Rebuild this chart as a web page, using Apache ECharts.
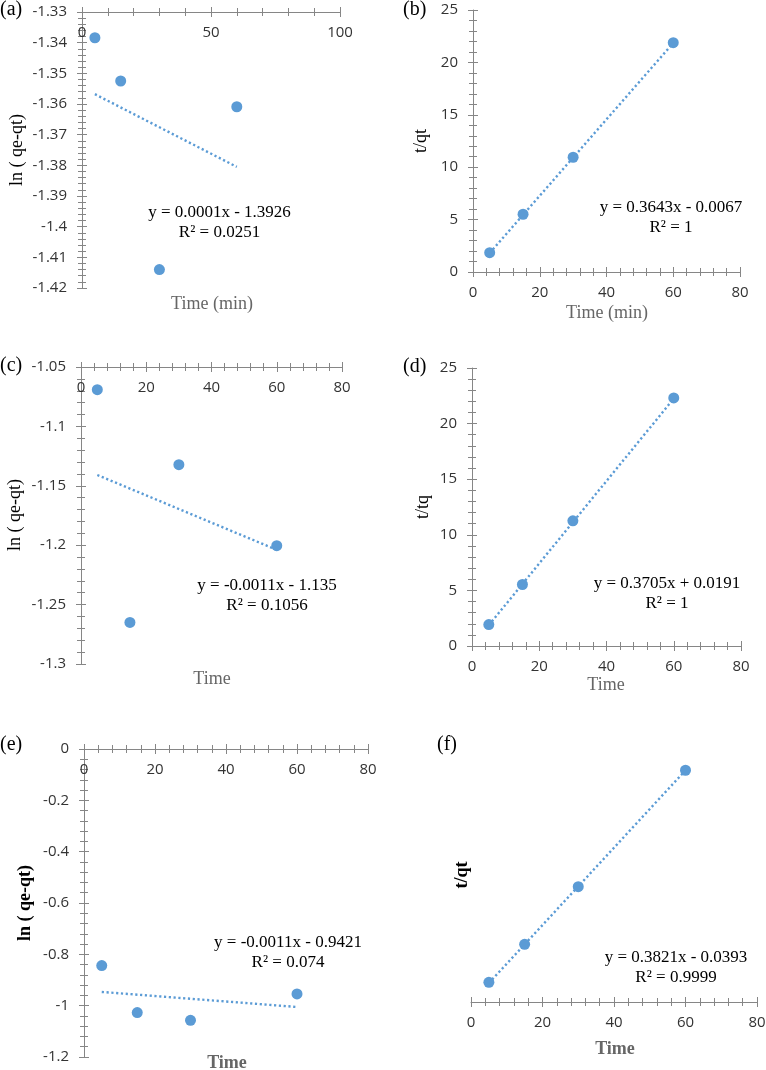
<!DOCTYPE html>
<html><head><meta charset="utf-8">
<script src="https://cdn.jsdelivr.net/npm/echarts@6/dist/echarts.min.js"></script>
<style>html,body{margin:0;padding:0;background:#fff}#c{width:766px;height:1070px}</style>
</head><body><div id="c"></div>
<script>
// ---- data ----
const timeX = [5, 15, 30, 60];
const trendX = [5, 60];
const aY = [-1.3384, -1.3525, -1.4140, -1.3609];
const aTrend = [-1.3568, -1.3805];
const bY = [1.84, 5.51, 10.95, 21.88];
const bTrend = [1.81, 21.85];
const cY = [-1.0691, -1.2650, -1.1322, -1.2004];
const cTrend = [-1.1409, -1.2039];
const dY = [1.93, 5.53, 11.26, 22.31];
const dTrend = [1.87, 22.25];
const eY = [-0.8436, -1.0270, -1.0570, -0.9543];
const eTrend = [-0.9465, -1.0051];
const fY = [1.95, 5.70, 11.40, 22.90];
const fTrend = [1.87, 22.89];
const panelLabels = ['(a)', '(b)', '(c)', '(d)', '(e)', '(f)'];
const xTitles = ['Time (min)', 'Time (min)', 'Time', 'Time', 'Time', 'Time'];
const yTitles = ['ln ( qe-qt)', 't/qt', 'ln ( qe-qt)', 't/tq', 'ln ( qe-qt)', 't/qt'];
const equations = ['y = 0.0001x - 1.3926', 'y = 0.3643x - 0.0067', 'y = -0.0011x - 1.135',
                   'y = 0.3705x + 0.0191', 'y = -0.0011x - 0.9421', 'y = 0.3821x - 0.0393'];
const r2s = ['R² = 0.0251', 'R² = 1', 'R² = 0.1056', 'R² = 1', 'R² = 0.074', 'R² = 0.9999'];
const xRanges = [[0, 100, 50], [0, 80, 20], [0, 80, 20], [0, 80, 20], [0, 80, 20], [0, 80, 20]];
const yRanges = [[-1.42, -1.33, 0.01], [0, 25, 5], [-1.3, -1.05, 0.05], [0, 25, 5], [-1.2, 0, 0.2], [0, 25, 5]];

// ---- layout / style ----
const ptsAll = [aY, bY, cY, dY, eY, fY];
const trAll = [aTrend, bTrend, cTrend, dTrend, eTrend, fTrend];
const grids = [
  {left: 82, top: 12, width: 258, height: 276},
  {left: 473, top: 10, width: 267, height: 262},
  {left: 81, top: 367, width: 261, height: 297},
  {left: 472, top: 368, width: 269, height: 278},
  {left: 84, top: 749, width: 284, height: 308},
  {left: 471, top: 749, width: 286, height: 253}
];
const xPos = ['top', 'bottom', 'top', 'bottom', 'top', 'bottom'];
const boldTitles = [false, false, false, false, true, true];
const labelPos = [[0, 10], [403, 10], [0, 366], [403, 367], [0, 745], [437, 745]];
const yTitlePos = [[17, 150], [421, 141], [15, 515], [423, 507], [25, 903], [462, 875]];
const xTitlePos = [[212, 304], [607, 313], [212, 679], [606, 685], [227, 1063], [615, 1049]];
const eqPos = [[219.5, 213], [671, 208], [267, 586], [667, 584], [288, 943], [676, 958]];

const AX = '#868686';
const BLUE = '#5B9BD5';
const SANS = '"Open Sans", "Liberation Sans", sans-serif';
const SERIF = '"Liberation Serif", "DejaVu Serif", serif';

function axisBase(gi, r, extra) {
  return Object.assign({
    gridIndex: gi, type: 'value', min: r[0], max: r[1], interval: r[2],
    splitLine: {show: false},
    minorSplitLine: {show: false},
    axisLine: {show: true, onZero: false, lineStyle: {color: AX, width: 1}},
    axisTick: {show: true, length: 5, lineStyle: {color: AX, width: 1}},
    minorTick: {show: true, splitNumber: 5, length: 4, lineStyle: {color: AX, width: 1}},
    axisLabel: {show: true, fontFamily: SANS, fontSize: 15, color: '#333'}
  }, extra);
}
function shadow(a) {
  const s = JSON.parse(JSON.stringify(a));
  s.axisLine.show = false;
  s.axisLabel = {show: false};
  s.axisTick.inside = true;
  return s;
}

const xAxis = [], yAxis = [], series = [], graphic = [];
grids.forEach((g, i) => {
  g.outerBoundsMode = 'none';
  g.containLabel = false;
  const xa = axisBase(i, xRanges[i], {position: xPos[i]});
  xa.axisLabel.margin = 13;
  xa.axisLabel.inside = xPos[i] === 'top';
  const ya = axisBase(i, yRanges[i], {position: 'left'});
  ya.axisLabel.margin = 15;
  xAxis.push(xa, shadow(xa));
  if (i === 5) {
    yAxis.push(Object.assign(axisBase(i, yRanges[i], {position: 'left'}), {show: false}));
    yAxis.push(Object.assign(axisBase(i, yRanges[i], {position: 'left'}), {show: false}));
  } else {
    yAxis.push(ya, shadow(ya));
  }
  series.push({
    type: 'line', xAxisIndex: 2 * i, yAxisIndex: 2 * i, symbol: 'none', silent: true, z: 2,
    data: trendX.map((x, k) => [x, trAll[i][k]]),
    lineStyle: {color: BLUE, width: 2.4, type: [2.2, 2.6]}
  });
  series.push({
    type: 'scatter', xAxisIndex: 2 * i, yAxisIndex: 2 * i, symbol: 'circle', symbolSize: 11, z: 3,
    data: timeX.map((x, k) => [x, ptsAll[i][k]]),
    itemStyle: {color: BLUE, opacity: 1}
  });
  const bw = boldTitles[i] ? 'bold ' : '';
  graphic.push({type: 'text', x: labelPos[i][0], y: labelPos[i][1],
    style: {text: panelLabels[i], font: '20px ' + SERIF, fill: '#000', align: 'left', verticalAlign: 'middle'}});
  graphic.push({type: 'text', x: yTitlePos[i][0], y: yTitlePos[i][1], rotation: Math.PI / 2,
    style: {text: yTitles[i], font: bw + '18px ' + SERIF, fill: '#000', align: 'center', verticalAlign: 'middle'}});
  graphic.push({type: 'text', x: xTitlePos[i][0], y: xTitlePos[i][1],
    style: {text: xTitles[i], font: bw + '18px ' + SERIF, fill: '#666', align: 'center', verticalAlign: 'middle'}});
  graphic.push({type: 'text', x: eqPos[i][0], y: eqPos[i][1] - 10,
    style: {text: equations[i] + '\n' + r2s[i], font: '17px ' + SERIF, lineHeight: 19.5, fill: '#000', align: 'center', verticalAlign: 'top'}});
});

const chart = echarts.init(document.getElementById('c'), null, {renderer: 'canvas'});
chart.setOption({
  animation: false,
  backgroundColor: '#fff',
  grid: grids, xAxis, yAxis, series, graphic
});
</script></body></html>
